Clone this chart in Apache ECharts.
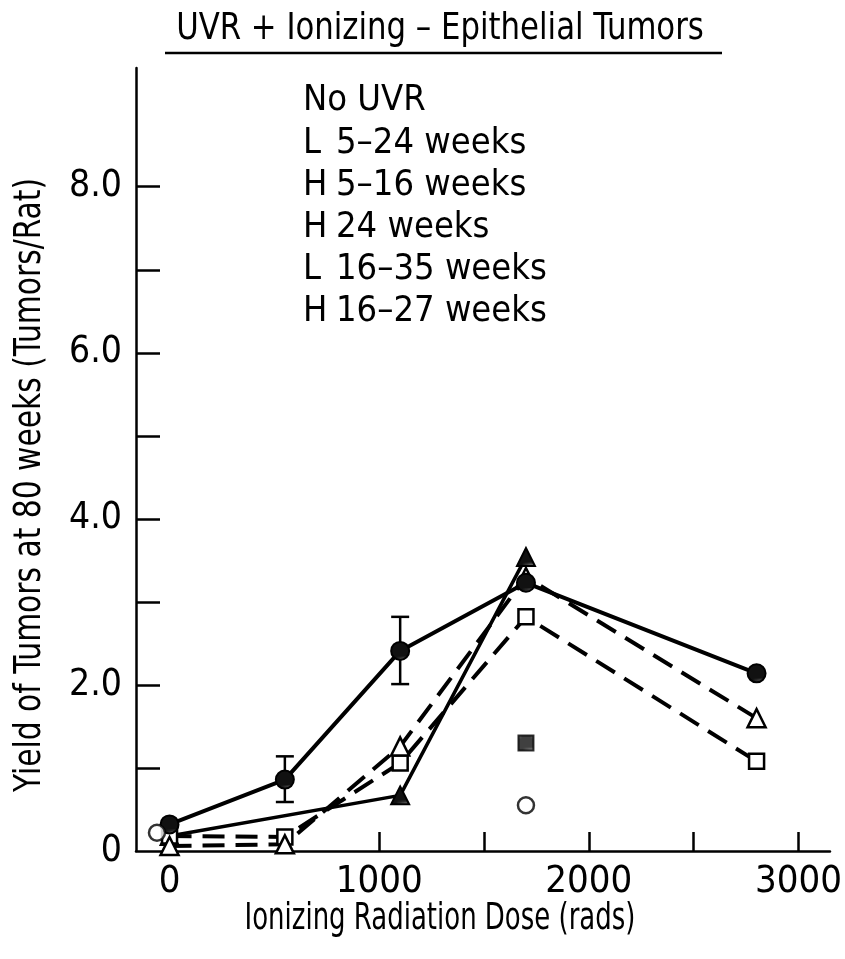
<!DOCTYPE html>
<html>
<head>
<meta charset="utf-8">
<title>UVR + Ionizing - Epithelial Tumors</title>
<script src="https://cdn.jsdelivr.net/npm/echarts@6/dist/echarts.min.js"></script>
<style>
  html, body { margin: 0; padding: 0; background: #fff; }
  #chart { width: 845px; height: 959px; }
</style>
</head>
<body>
<div id="chart"></div>
<script>
// Tumor yield at 80 weeks versus ionizing dose, per UVR exposure schedule
const FONT = "'Liberation Sans Narrow', 'DejaVu Sans Condensed', 'Noto Sans', sans-serif";

const titleText = 'UVR + Ionizing \u2013 Epithelial Tumors';
const xAxisTitle = 'Ionizing Radiation Dose (rads)';
const yAxisTitle = 'Yield of Tumors at 80 weeks (Tumors/Rat)';

// legend rows: [group letter, schedule]
const legendRows = [
  ['', 'No UVR'],
  ['L', '5\u201324 weeks'],
  ['H', '5\u201316 weeks'],
  ['H', '24 weeks'],
  ['L', '16\u201335 weeks'],
  ['H', '16\u201327 weeks']
];

const xTickValues = [1000, 1500, 2000, 2500, 3000];
const xLabelValues = [0, 1000, 2000, 3000];
const yTickValues = [1, 2, 3, 4, 5, 6, 7, 8];
const yLabelValues = [0, 2, 4, 6, 8];

// dose (rads) and yield (tumors/rat)
const doses = [0, 550, 1100, 1700, 2800];
const yieldL5to24 = [0.32, 0.86, 2.41, 3.23, 2.14];
const yieldH5to16 = [0.06, 0.08, 1.26, 3.30, 1.60];
const yieldL16to35 = [0.18, 0.17, 1.06, 2.82, 1.08];

const dosesH16to27 = [0, 1100, 1700];
const yieldH16to27 = [0.18, 0.67, 3.54];

const dosesH24 = [1700];
const yieldH24 = [1.30];

const dosesNoUVR = [-60, 1700];
const yieldNoUVR = [0.22, 0.55];

// error bars on the L 5-24 weeks curve
const errDoses = [550, 1100];
const errLow = [0.59, 2.01];
const errHigh = [1.14, 2.82];

function pairs(xs, ys) { return xs.map((x, i) => [x, ys[i]]); }

// stippled fill for the shaded markers
function hatchPattern() {
  const c = document.createElement('canvas');
  c.width = 6; c.height = 6;
  const g = c.getContext('2d');
  g.fillStyle = '#111';
  g.fillRect(0, 0, 6, 6);
  g.fillStyle = '#fff';
  g.fillRect(0, 1, 3, 1);
  g.fillRect(4, 2, 1, 3);
  g.fillRect(1, 4, 1, 1);
  return { image: c, repeat: 'repeat' };
}
const hatch = hatchPattern();

const chart = echarts.init(document.getElementById('chart'), null, { renderer: 'canvas' });

const legendGraphics = [];
legendRows.forEach((row, i) => {
  const y = 101 + i * 42.2;
  if (row[0] !== '') {
    legendGraphics.push({ type: 'text', x: 303, y: y,
      style: { text: row[0], font: '36px ' + FONT, fill: '#000', verticalAlign: 'middle' } });
  }
  legendGraphics.push({ type: 'text', x: row[0] === '' ? 303 : 336, y: y,
    style: { text: row[1], font: '36px ' + FONT, fill: '#000', verticalAlign: 'middle' } });
});

const option = {
  animation: false,
  backgroundColor: '#fff',
  grid: { left: 136, right: 13, top: 68, bottom: 108, containLabel: false },
  xAxis: {
    type: 'value',
    min: -160,
    max: 3150,
    axisLine: { show: true, onZero: false, lineStyle: { color: '#000', width: 2.5 } },
    axisTick: { show: true, inside: true, length: 19, lineStyle: { color: '#000', width: 2.5 },
      customValues: xTickValues },
    axisLabel: { customValues: xLabelValues, color: '#000', fontFamily: FONT, fontSize: 38, margin: 12,
      formatter: v => String(v) },
    splitLine: { show: false }
  },
  yAxis: {
    type: 'value',
    min: 0,
    max: 9.43,
    axisLine: { show: true, onZero: false, lineStyle: { color: '#000', width: 2.5 } },
    axisTick: { show: true, inside: true, length: 24, lineStyle: { color: '#000', width: 2.5 },
      customValues: yTickValues },
    axisLabel: { customValues: yLabelValues, color: '#000', fontFamily: FONT, fontSize: 37, margin: 14,
      formatter: v => (v === 0 ? '0' : v.toFixed(1)) },
    splitLine: { show: false }
  },
  graphic: [
    { type: 'text', x: 440, y: 29, scaleX: 0.9,
      style: { text: titleText, font: '38px ' + FONT, fill: '#000', align: 'center', verticalAlign: 'middle' } },
    { type: 'line', shape: { x1: 165, y1: 53, x2: 722, y2: 53 },
      style: { stroke: '#000', lineWidth: 2.5 } },
    { type: 'text', x: 30, y: 485, rotation: Math.PI / 2, scaleX: 0.87,
      style: { text: yAxisTitle, font: '38px ' + FONT, fill: '#000', align: 'center', verticalAlign: 'middle' } },
    { type: 'text', x: 440, y: 919, scaleX: 0.76,
      style: { text: xAxisTitle, font: '38px ' + FONT, fill: '#000', align: 'center', verticalAlign: 'middle' } }
  ].concat(legendGraphics),
  series: [
    {
      name: 'H 16\u201327 weeks', type: 'line', data: pairs(dosesH16to27, yieldH16to27),
      symbol: 'triangle', symbolSize: 18,
      lineStyle: { color: '#000', width: 3.5, type: 'solid' },
      itemStyle: { color: hatch, borderColor: '#000', borderWidth: 2 }, z: 3
    },
    {
      name: 'L 16\u201335 weeks', type: 'line', data: pairs(doses, yieldL16to35),
      symbol: 'rect', symbolSize: 15,
      lineStyle: { color: '#000', width: 4, type: [22, 11] },
      itemStyle: { color: '#fff', borderColor: '#000', borderWidth: 2.5 }, z: 4
    },
    {
      name: 'H 5\u201316 weeks', type: 'line', data: pairs(doses, yieldH5to16),
      symbol: 'triangle', symbolSize: 18,
      lineStyle: { color: '#000', width: 4, type: [22, 11] },
      itemStyle: { color: '#fff', borderColor: '#000', borderWidth: 2.5 }, z: 4
    },
    {
      name: 'L 5\u201324 weeks', type: 'line', data: pairs(doses, yieldL5to24),
      symbol: 'circle', symbolSize: 18,
      lineStyle: { color: '#000', width: 4, type: 'solid' },
      itemStyle: { color: hatch, borderColor: '#000', borderWidth: 2 }, z: 5
    },
    {
      name: 'L 5\u201324 weeks error', type: 'custom',
      data: errDoses.map((d, i) => [d, errLow[i], errHigh[i]]),
      renderItem: function (params, api) {
        const lo = api.coord([api.value(0), api.value(1)]);
        const hi = api.coord([api.value(0), api.value(2)]);
        const half = 9;
        return {
          type: 'group',
          children: [
            { type: 'line', shape: { x1: lo[0], y1: lo[1], x2: hi[0], y2: hi[1] },
              style: { stroke: '#000', lineWidth: 2.5 } },
            { type: 'line', shape: { x1: lo[0] - half, y1: lo[1], x2: lo[0] + half, y2: lo[1] },
              style: { stroke: '#000', lineWidth: 2.5 } },
            { type: 'line', shape: { x1: hi[0] - half, y1: hi[1], x2: hi[0] + half, y2: hi[1] },
              style: { stroke: '#000', lineWidth: 2.5 } }
          ]
        };
      },
      z: 2
    },
    {
      name: 'H 24 weeks', type: 'scatter', data: pairs(dosesH24, yieldH24),
      symbol: 'rect', symbolSize: 15,
      itemStyle: { color: hatch, borderColor: '#000', borderWidth: 2 }, z: 5
    },
    {
      name: 'No UVR', type: 'scatter', data: pairs(dosesNoUVR, yieldNoUVR),
      symbol: 'circle', symbolSize: 16,
      itemStyle: { color: '#fff', borderColor: '#000', borderWidth: 2.5 }, z: 5
    }
  ]
};

chart.setOption(option);
</script>
</body>
</html>
